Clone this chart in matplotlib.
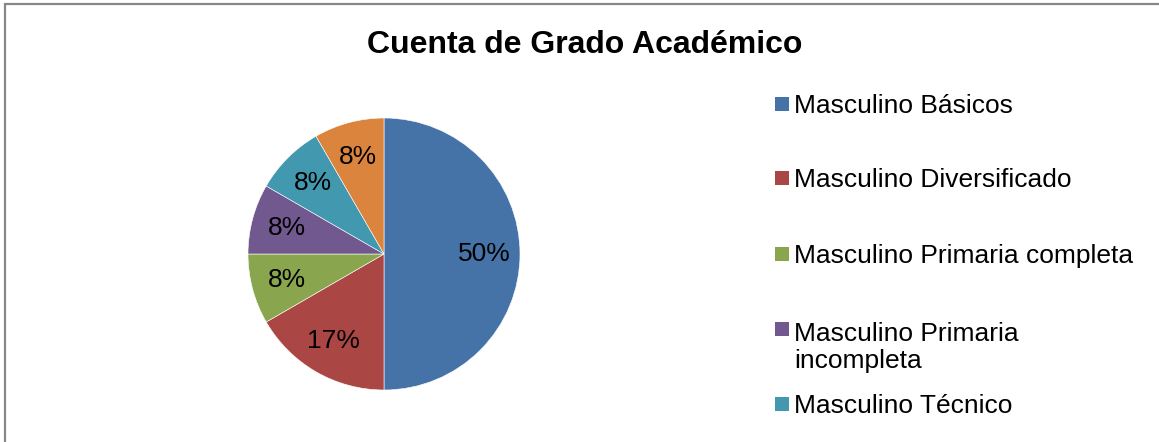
import matplotlib
matplotlib.use("Agg")
import matplotlib.pyplot as plt
from matplotlib.patches import Rectangle

plt.rcParams['font.family'] = ['Liberation Sans', 'DejaVu Sans']

title = "Cuenta de Grado Académico"
categories = ["Masculino Básicos", "Masculino Diversificado",
              "Masculino Primaria completa", "Masculino Primaria\nincompleta",
              "Masculino Técnico", "Masculino Universitario"]
counts = [6, 2, 1, 1, 1, 1]
colors = ["#4572A7", "#AA4643", "#89A54E", "#71588F", "#4198AF", "#DB843D"]

W, H = 1159, 442
fig = plt.figure(figsize=(W / 100, H / 100), dpi=100)

# chart border (continues beyond right and bottom edges)
fig.add_artist(Rectangle((4.5 / W, -0.1), 2.0, (H - 4.5) / H + 0.1,
                         transform=fig.transFigure, fill=False,
                         ec="#878787", lw=1.6))

# pie
cx, cy, r = 384, 254, 136
ax = fig.add_axes([(cx - r) / W, (H - cy - r) / H, 2 * r / W, 2 * r / H])
wedges, texts, autotexts = ax.pie(
    counts, colors=colors, startangle=90, counterclock=False,
    autopct='%1.0f%%', pctdistance=0.74, radius=1.0,
    wedgeprops=dict(edgecolor="white", linewidth=0.4),
    textprops=dict(fontsize=19, color="black"))
ax.set_xlim(-1, 1)
ax.set_ylim(-1, 1)
ax.set_aspect('equal')
ax.axis('off')

# title
fig.text(585 / W, (H - 53) / H, title, ha='center', va='baseline',
         fontsize=23, fontweight='bold')

# legend (drawn manually; only the entries visible in the frame)
first_baselines = [113, 187, 263, 338, 413]
line_h = 30
for lab, col, yb in zip(categories, colors, first_baselines):
    nl = lab.count("\n")
    fig.add_artist(Rectangle((775 / W, (H - yb + 2) / H), 14 / W, 14 / H,
                             transform=fig.transFigure, fc=col, ec='none'))
    fig.text(794 / W, (H - yb - nl * line_h) / H, lab, ha='left',
             va='baseline', fontsize=19, linespacing=1.14)

fig.savefig("out.png", dpi=100, facecolor="white")
